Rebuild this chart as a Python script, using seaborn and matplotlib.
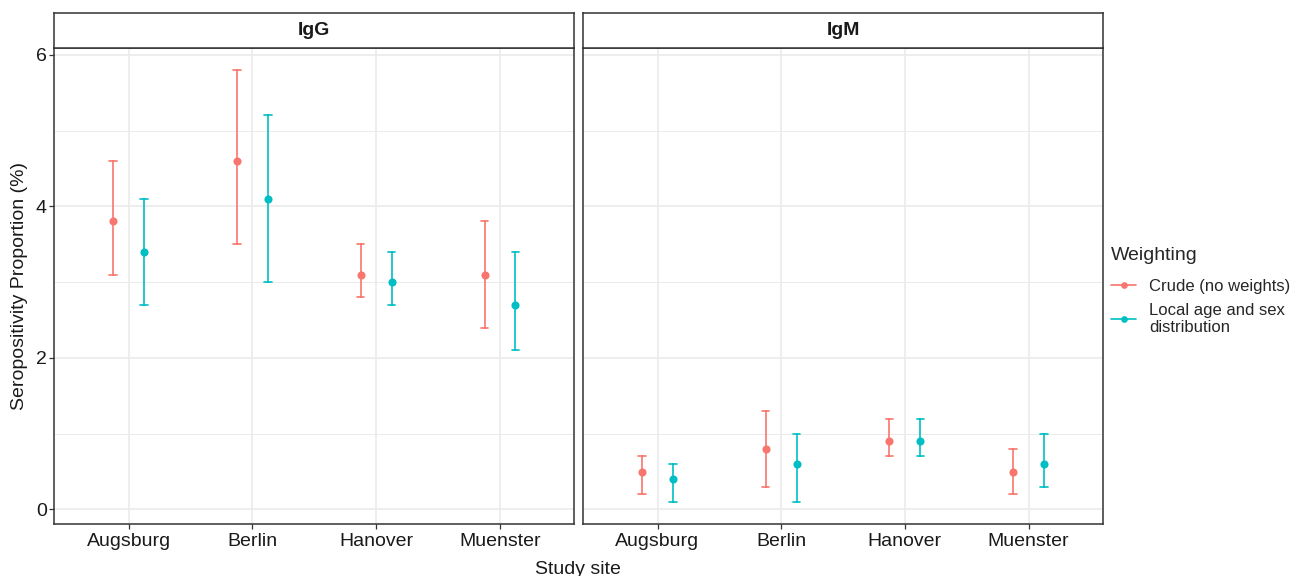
import matplotlib
matplotlib.use("Agg")
import matplotlib.pyplot as plt
from matplotlib.lines import Line2D
from matplotlib.ticker import MultipleLocator
import numpy as np
import pandas as pd
import seaborn as sns

# values
sites = ["Augsburg", "Berlin", "Hanover", "Muenster"]
weightings = ["Crude (no weights)", "Local age and sex\ndistribution"]
antibodies = ["IgG", "IgM"]

# IgG
igg_crude_est = [3.8, 4.6, 3.1, 3.1]
igg_crude_lo = [3.1, 3.5, 2.8, 2.4]
igg_crude_hi = [4.6, 5.8, 3.5, 3.8]
igg_local_est = [3.4, 4.1, 3.0, 2.7]
igg_local_lo = [2.7, 3.0, 2.7, 2.1]
igg_local_hi = [4.1, 5.2, 3.4, 3.4]

# IgM
igm_crude_est = [0.5, 0.8, 0.9, 0.5]
igm_crude_lo = [0.2, 0.3, 0.7, 0.2]
igm_crude_hi = [0.7, 1.3, 1.2, 0.8]
igm_local_est = [0.4, 0.6, 0.9, 0.6]
igm_local_lo = [0.1, 0.1, 0.7, 0.3]
igm_local_hi = [0.6, 1.0, 1.2, 1.0]

colors = ["#F8766D", "#00BFC4"]

series = {
    ("IgG", weightings[0]): (igg_crude_lo, igg_crude_est, igg_crude_hi),
    ("IgG", weightings[1]): (igg_local_lo, igg_local_est, igg_local_hi),
    ("IgM", weightings[0]): (igm_crude_lo, igm_crude_est, igm_crude_hi),
    ("IgM", weightings[1]): (igm_local_lo, igm_local_est, igm_local_hi),
}

# long table: lower / estimate / upper per group -> median + full range
rows = []
for (ab, w), (lo, est, hi) in series.items():
    for i, s in enumerate(sites):
        for v in (lo[i], est[i], hi[i]):
            rows.append({"antibody": ab, "weighting": w, "site": s, "value": v})
df = pd.DataFrame(rows)

sns.set_theme(style="white")
plt.rcParams["font.family"] = ["Liberation Sans", "DejaVu Sans"]

W, H = 1307, 576
fig = plt.figure(figsize=(W / 100, H / 100), dpi=100)

panel_x = [(54.3, 574.3), (583.3, 1102.7)]
p_bottom, p_top, s_top = 523.5, 48.3, 12.7
edge = "#333333"

for k, ab in enumerate(antibodies):
    x0, x1 = panel_x[k]
    ax = fig.add_axes([x0 / W, 1 - p_bottom / H, (x1 - x0) / W, (p_bottom - p_top) / H])
    sub = df[df["antibody"] == ab]
    sns.pointplot(data=sub, x="site", y="value", hue="weighting",
                  order=sites, hue_order=weightings, palette=colors,
                  estimator="median", errorbar=("pi", 100),
                  dodge=0.25, linestyle="none", capsize=0.06,
                  markersize=3.8, err_kws={"linewidth": 1.2},
                  legend=False, ax=ax)
    ax.set_xlim(-0.6, 3.6)
    ax.set_ylim(-0.185, 6.085)
    ax.yaxis.set_major_locator(MultipleLocator(2))
    ax.yaxis.set_minor_locator(MultipleLocator(1))
    ax.grid(True, which="major", color="#EBEBEB", linewidth=1.2)
    ax.grid(True, which="minor", axis="y", color="#EBEBEB", linewidth=0.7)
    ax.set_axisbelow(True)
    for sp in ax.spines.values():
        sp.set_color(edge)
        sp.set_linewidth(1.1)
    ax.set_xlabel("")
    ax.set_ylabel("")
    ax.tick_params(axis="x", which="major", length=3.5, width=0.9, color=edge,
                   labelsize=14, labelcolor="#1a1a1a", pad=3, bottom=True)
    ax.tick_params(axis="y", which="minor", length=0)
    if k == 0:
        ax.tick_params(axis="y", which="major", length=3.5, width=0.9, color=edge,
                       labelsize=14, labelcolor="#1a1a1a", pad=2, left=True)
    else:
        ax.tick_params(axis="y", which="major", length=0, labelleft=False)

    # facet strip
    sax = fig.add_axes([x0 / W, 1 - p_top / H, (x1 - x0) / W, (p_top - s_top) / H])
    sax.set_xticks([])
    sax.set_yticks([])
    sax.set_facecolor("white")
    for sp in sax.spines.values():
        sp.set_color(edge)
        sp.set_linewidth(1.1)
    sax.text(0.5, 0.5, ab, ha="center", va="center", fontsize=14,
             fontweight="bold", color="#1a1a1a", transform=sax.transAxes)

fig.text(578 / W, 1 - 569.5 / H, "Study site", ha="center", va="center",
         fontsize=14, color="#1a1a1a")
fig.text(20 / W, 1 - 286 / H, "Seropositivity Proportion (%)", rotation=90,
         ha="center", va="center", fontsize=14, color="#1a1a1a")

handles = [Line2D([0], [0], color=c, marker="o", markersize=3.8, linewidth=1.2)
           for c in colors]
leg = fig.legend(handles, weightings, title="Weighting", loc="upper left",
                 bbox_to_anchor=(1096 / W, 1 - 232 / H), frameon=False,
                 fontsize=12, title_fontsize=14, handlelength=1.5,
                 handletextpad=0.8, labelspacing=0.5, alignment="left")
leg._legend_box.sep = 11

fig.savefig("out.png", dpi=100)
